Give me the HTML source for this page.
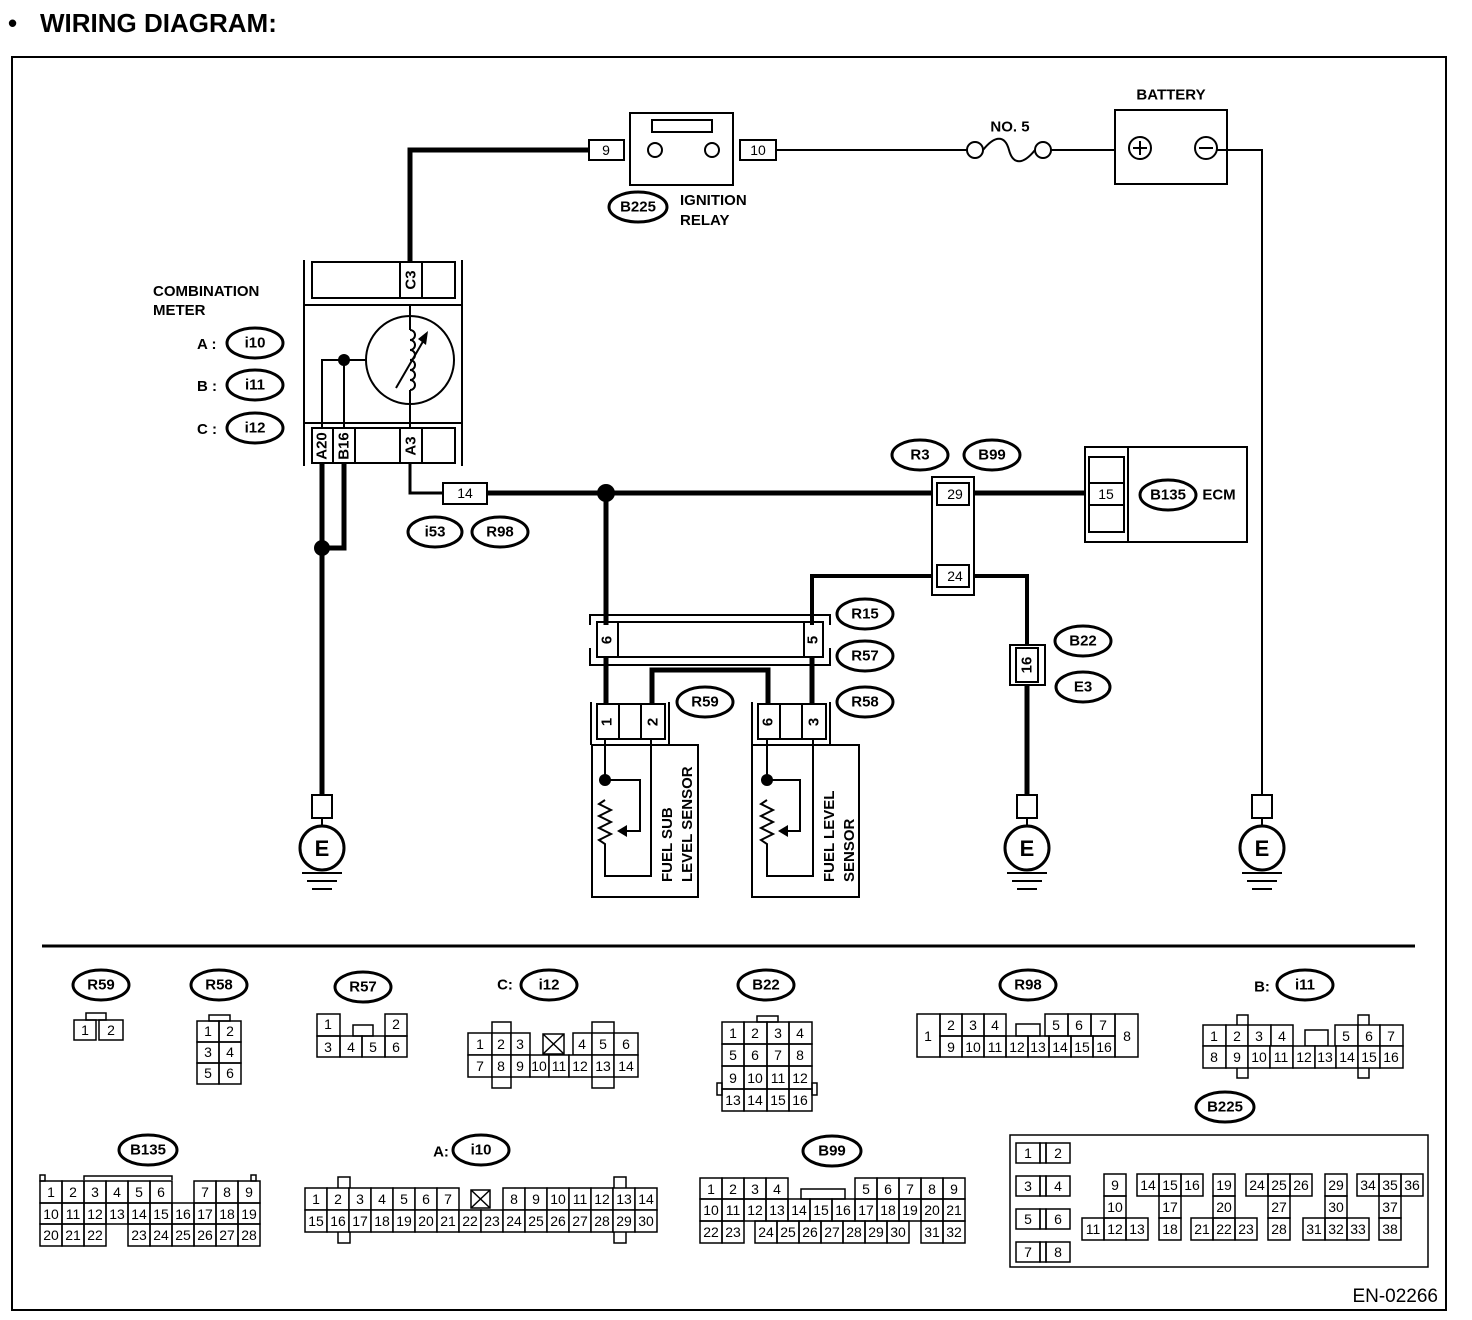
<!DOCTYPE html>
<html><head><meta charset="utf-8"><style>
body{margin:0;background:#fff;}
svg{display:block;font-family:"Liberation Sans",sans-serif;}
.b{font-weight:bold;}
.c{font-size:14px;text-anchor:middle;dominant-baseline:central;}
.l{font-size:15px;font-weight:bold;text-anchor:middle;dominant-baseline:central;}
rect{fill:none;stroke:#000;stroke-width:2;}
rect[fill="#fff"]{fill:#fff;}
.g rect{stroke-width:1.5;}
line,path,polyline{stroke:#000;fill:none;}
</style></head><body>
<svg width="1472" height="1320" viewBox="0 0 1472 1320">
<text x="8" y="32" font-size="26" font-weight="bold">•</text>
<text x="40" y="32" font-size="26" font-weight="bold">WIRING DIAGRAM:</text>
<rect x="12" y="57" width="1434" height="1253" stroke-width="2"/>

<!-- top wires -->
<polyline points="410,262 410,150 589,150" stroke-width="5"/>
<rect x="589" y="140" width="35" height="20"/><text class="c" x="606" y="150">9</text>
<rect x="630" y="113" width="103" height="72"/>
<rect x="652" y="120" width="60" height="12"/>
<circle cx="655" cy="150" r="7" fill="none" stroke="#000" stroke-width="2"/>
<circle cx="712" cy="150" r="7" fill="none" stroke="#000" stroke-width="2"/>
<rect x="740" y="140" width="36" height="20"/><text class="c" x="758" y="150">10</text>
<line x1="776" y1="150" x2="967" y2="150" stroke-width="2"/>
<circle cx="975" cy="150" r="8" fill="none" stroke="#000" stroke-width="2"/>
<circle cx="1043" cy="150" r="8" fill="none" stroke="#000" stroke-width="2"/>
<path d="M983,150 C995,135 1005,135 1009,150 C1013,165 1023,165 1035,150" stroke-width="2"/>
<text class="l" x="1010" y="127">NO. 5</text>
<line x1="1051" y1="150" x2="1115" y2="150" stroke-width="2"/>
<rect x="1115" y="110" width="112" height="74"/>
<text class="l" x="1171" y="95">BATTERY</text>
<circle cx="1140" cy="148" r="11" fill="none" stroke="#000" stroke-width="2"/>
<line x1="1133" y1="148" x2="1147" y2="148" stroke-width="2"/><line x1="1140" y1="141" x2="1140" y2="155" stroke-width="2"/>
<circle cx="1206" cy="148" r="11" fill="none" stroke="#000" stroke-width="2"/>
<line x1="1199" y1="148" x2="1213" y2="148" stroke-width="2"/>
<polyline points="1217,150 1262,150 1262,795" stroke-width="2"/>
<ellipse cx="638" cy="207" rx="29" ry="15" fill="none" stroke="#000" stroke-width="3"/><text class="l" x="638" y="207">B225</text>
<text x="680" y="205" font-size="15" font-weight="bold">IGNITION</text>
<text x="680" y="225" font-size="15" font-weight="bold">RELAY</text>

<!-- combination meter -->
<text x="153" y="296" font-size="15" font-weight="bold">COMBINATION</text>
<text x="153" y="315" font-size="15" font-weight="bold">METER</text>
<text x="197" y="349" font-size="15" font-weight="bold">A :</text>
<ellipse cx="255" cy="343" rx="28" ry="15" fill="none" stroke="#000" stroke-width="3"/><text class="l" x="255" y="343">i10</text>
<text x="197" y="391" font-size="15" font-weight="bold">B :</text>
<ellipse cx="255" cy="385" rx="28" ry="15" fill="none" stroke="#000" stroke-width="3"/><text class="l" x="255" y="385">i11</text>
<text x="197" y="434" font-size="15" font-weight="bold">C :</text>
<ellipse cx="255" cy="428" rx="28" ry="15" fill="none" stroke="#000" stroke-width="3"/><text class="l" x="255" y="428">i12</text>
<line x1="304" y1="260" x2="304" y2="466" stroke-width="2"/>
<line x1="462" y1="260" x2="462" y2="466" stroke-width="2"/>
<line x1="304" y1="305" x2="462" y2="305" stroke-width="2"/>
<line x1="304" y1="423" x2="462" y2="423" stroke-width="2"/>
<rect x="312" y="262" width="143" height="36"/>
<line x1="400" y1="262" x2="400" y2="298" stroke-width="2"/><line x1="422" y1="262" x2="422" y2="298" stroke-width="2"/>
<text class="l" transform="translate(411,280) rotate(-90)">C3</text>
<rect x="312" y="428" width="143" height="35"/>
<line x1="333" y1="428" x2="333" y2="463" stroke-width="2"/><line x1="355" y1="428" x2="355" y2="463" stroke-width="2"/>
<line x1="400" y1="428" x2="400" y2="463" stroke-width="2"/><line x1="422" y1="428" x2="422" y2="463" stroke-width="2"/>
<text class="l" transform="translate(322,446) rotate(-90)">A20</text>
<text class="l" transform="translate(344,446) rotate(-90)">B16</text>
<text class="l" transform="translate(411,446) rotate(-90)">A3</text>
<circle cx="410" cy="360" r="44" fill="none" stroke="#000" stroke-width="2"/>
<polyline points="410,305 410,330" stroke-width="2"/><polyline points="410,390 410,428" stroke-width="2"/>
<path d="M410,330 a5,5 0 0 1 0,10 a5,5 0 0 1 0,10 a5,5 0 0 1 0,10 a5,5 0 0 1 0,10 a5,5 0 0 1 0,10 a5,5 0 0 1 0,10" stroke-width="2"/>
<line x1="396" y1="388" x2="425" y2="338" stroke-width="2"/>
<polygon points="428,331 418,339 426,345" fill="#000"/>
<polyline points="322,428 322,360 366,360" stroke-width="2"/>
<line x1="344" y1="360" x2="344" y2="428" stroke-width="2"/>
<circle cx="344" cy="360" r="6" fill="#000"/>
<!-- left ground wires -->
<line x1="322" y1="463" x2="322" y2="795" stroke-width="5"/>
<polyline points="344,463 344,548 322,548" stroke-width="5"/>
<circle cx="322" cy="548" r="8" fill="#000"/>

<!-- A3 line -->
<polyline points="410,463 410,493 443,493" stroke-width="3"/>
<rect x="443" y="483" width="44" height="21"/><text class="c" x="465" y="493">14</text>
<ellipse cx="435" cy="532" rx="27" ry="15" fill="none" stroke="#000" stroke-width="3"/><text class="l" x="435" y="532">i53</text>
<ellipse cx="500" cy="532" rx="28" ry="15" fill="none" stroke="#000" stroke-width="3"/><text class="l" x="500" y="532">R98</text>
<line x1="487" y1="493" x2="932" y2="493" stroke-width="5"/>
<circle cx="606" cy="493" r="9" fill="#000"/>
<line x1="606" y1="493" x2="606" y2="625" stroke-width="5"/>

<!-- R3/B99 -->
<ellipse cx="920" cy="455" rx="28" ry="15" fill="none" stroke="#000" stroke-width="3"/><text class="l" x="920" y="455">R3</text>
<ellipse cx="992" cy="455" rx="28" ry="15" fill="none" stroke="#000" stroke-width="3"/><text class="l" x="992" y="455">B99</text>
<rect x="932" y="477" width="42" height="118"/>
<rect x="937" y="483" width="32" height="22"/><text class="c" x="955" y="494">29</text>
<rect x="937" y="565" width="32" height="22"/><text class="c" x="955" y="576">24</text>
<line x1="974" y1="493" x2="1085" y2="493" stroke-width="5"/>
<rect x="1085" y="447" width="162" height="95"/>
<line x1="1128" y1="447" x2="1128" y2="542" stroke-width="2"/>
<rect x="1089" y="457" width="35" height="75"/>
<rect x="1089" y="483" width="35" height="22"/><text class="c" x="1106" y="494">15</text>
<ellipse cx="1168" cy="495" rx="28" ry="15" fill="none" stroke="#000" stroke-width="3"/><text class="l" x="1168" y="495">B135</text>
<text class="l" x="1219" y="495">ECM</text>
<polyline points="932,576 812,576 812,625" stroke-width="4"/>
<polyline points="974,576 1027,576 1027,645" stroke-width="4"/>
<rect x="1010" y="645" width="35" height="40"/>
<rect x="1016" y="648" width="22" height="34"/>
<text class="l" transform="translate(1027,665) rotate(-90)">16</text>
<line x1="1027" y1="685" x2="1027" y2="795" stroke-width="5"/>
<ellipse cx="1083" cy="641" rx="28" ry="15" fill="none" stroke="#000" stroke-width="3"/><text class="l" x="1083" y="641">B22</text>
<ellipse cx="1083" cy="687" rx="27" ry="15" fill="none" stroke="#000" stroke-width="3"/><text class="l" x="1083" y="687">E3</text>

<!-- R15/R57 -->
<polyline points="590,625 590,615 830,615 830,625" stroke-width="2"/>
<polyline points="590,648 590,665 830,665 830,648" stroke-width="2"/>
<rect x="597" y="622" width="226" height="35"/>
<line x1="618" y1="622" x2="618" y2="657" stroke-width="2"/><line x1="804" y1="622" x2="804" y2="657" stroke-width="2"/>
<text class="l" transform="translate(607,640) rotate(-90)">6</text>
<text class="l" transform="translate(813,640) rotate(-90)">5</text>
<ellipse cx="865" cy="614" rx="28" ry="15" fill="none" stroke="#000" stroke-width="3"/><text class="l" x="865" y="614">R15</text>
<ellipse cx="865" cy="656" rx="28" ry="15" fill="none" stroke="#000" stroke-width="3"/><text class="l" x="865" y="656">R57</text>
<ellipse cx="865" cy="702" rx="28" ry="15" fill="none" stroke="#000" stroke-width="3"/><text class="l" x="865" y="702">R58</text>
<ellipse cx="705" cy="702" rx="28" ry="15" fill="none" stroke="#000" stroke-width="3"/><text class="l" x="705" y="702">R59</text>
<line x1="606" y1="657" x2="606" y2="704" stroke-width="5"/>
<line x1="812" y1="657" x2="812" y2="704" stroke-width="5"/>
<polyline points="652,704 652,670 768,670 768,704" stroke-width="5"/>
<!-- R59 sensor connectors -->
<polyline points="591,745 591,702" stroke-width="2"/><polyline points="669,702 669,745" stroke-width="2"/>
<rect x="597" y="704" width="68" height="35"/>
<line x1="619" y1="704" x2="619" y2="739" stroke-width="2"/><line x1="641" y1="704" x2="641" y2="739" stroke-width="2"/>
<text class="l" transform="translate(607,722) rotate(-90)">1</text>
<text class="l" transform="translate(653,722) rotate(-90)">2</text>
<polyline points="752,745 752,702" stroke-width="2"/><polyline points="830,702 830,745" stroke-width="2"/>
<rect x="758" y="704" width="68" height="35"/>
<line x1="780" y1="704" x2="780" y2="739" stroke-width="2"/><line x1="802" y1="704" x2="802" y2="739" stroke-width="2"/>
<text class="l" transform="translate(768,722) rotate(-90)">6</text>
<text class="l" transform="translate(814,722) rotate(-90)">3</text>
<!-- sensors -->
<rect x="592" y="745" width="106" height="152"/>
<polyline points="605,739 605,780" stroke-width="2"/>
<circle cx="605" cy="780" r="6" fill="#000"/>
<polyline points="605,780 640,780 640,831 622,831" stroke-width="2"/>
<polygon points="617,831 627,825 627,837" fill="#000"/>
<path d="M605,800 l-6,4 l12,6 l-12,6 l12,6 l-12,6 l12,6 l-12,6 l6,4 L605,876 L651,876 L651,739" stroke-width="2"/>
<text class="b" font-size="15" transform="translate(672,882) rotate(-90)">FUEL SUB</text>
<text class="b" font-size="15" transform="translate(692,882) rotate(-90)">LEVEL SENSOR</text>
<rect x="752" y="745" width="107" height="152"/>
<polyline points="767,739 767,780" stroke-width="2"/>
<circle cx="767" cy="780" r="6" fill="#000"/>
<polyline points="767,780 800,780 800,831 783,831" stroke-width="2"/>
<polygon points="778,831 788,825 788,837" fill="#000"/>
<path d="M767,800 l-6,4 l12,6 l-12,6 l12,6 l-12,6 l12,6 l-12,6 l6,4 L767,876 L813,876 L813,739" stroke-width="2"/>
<text class="b" font-size="15" transform="translate(834,882) rotate(-90)">FUEL LEVEL</text>
<text class="b" font-size="15" transform="translate(854,882) rotate(-90)">SENSOR</text>

<!-- grounds -->
<g>
<rect x="312" y="795" width="20" height="23"/><line x1="322" y1="818" x2="322" y2="826" stroke-width="2"/>
<circle cx="322" cy="848" r="22" fill="none" stroke="#000" stroke-width="3"/><text class="b" font-size="22" text-anchor="middle" x="322" y="856">E</text>
<line x1="302" y1="873" x2="342" y2="873" stroke-width="2"/><line x1="307" y1="881" x2="337" y2="881" stroke-width="2"/><line x1="312" y1="889" x2="332" y2="889" stroke-width="2"/>
<rect x="1017" y="795" width="20" height="23"/><line x1="1027" y1="818" x2="1027" y2="826" stroke-width="2"/>
<circle cx="1027" cy="848" r="22" fill="none" stroke="#000" stroke-width="3"/><text class="b" font-size="22" text-anchor="middle" x="1027" y="856">E</text>
<line x1="1007" y1="873" x2="1047" y2="873" stroke-width="2"/><line x1="1012" y1="881" x2="1042" y2="881" stroke-width="2"/><line x1="1017" y1="889" x2="1037" y2="889" stroke-width="2"/>
<rect x="1252" y="795" width="20" height="23"/><line x1="1262" y1="818" x2="1262" y2="826" stroke-width="2"/>
<circle cx="1262" cy="848" r="22" fill="none" stroke="#000" stroke-width="3"/><text class="b" font-size="22" text-anchor="middle" x="1262" y="856">E</text>
<line x1="1242" y1="873" x2="1282" y2="873" stroke-width="2"/><line x1="1247" y1="881" x2="1277" y2="881" stroke-width="2"/><line x1="1252" y1="889" x2="1272" y2="889" stroke-width="2"/>
</g>

<line x1="42" y1="946" x2="1415" y2="946" stroke-width="3"/>

<!-- connector legend -->
<g class="g">
<ellipse cx="101" cy="985" rx="28" ry="15" fill="none" stroke="#000" stroke-width="3"/><text class="l" x="101" y="985">R59</text>
<rect x="86" y="1013" width="20" height="7"/>
<rect x="74" y="1020" width="22" height="20"/><rect x="99" y="1020" width="24" height="20"/>
<text class="c" x="85" y="1030">1</text><text class="c" x="111" y="1030">2</text>

<ellipse cx="219" cy="985" rx="28" ry="15" fill="none" stroke="#000" stroke-width="3"/><text class="l" x="219" y="985">R58</text>
<rect x="209" y="1015" width="21" height="6"/>
<rect x="197" y="1021" width="22" height="21"/><rect x="219" y="1021" width="22" height="21"/>
<rect x="197" y="1042" width="22" height="21"/><rect x="219" y="1042" width="22" height="21"/>
<rect x="197" y="1063" width="22" height="21"/><rect x="219" y="1063" width="22" height="21"/>
<text class="c" x="208" y="1031">1</text><text class="c" x="230" y="1031">2</text>
<text class="c" x="208" y="1052">3</text><text class="c" x="230" y="1052">4</text>
<text class="c" x="208" y="1073">5</text><text class="c" x="230" y="1073">6</text>

<ellipse cx="363" cy="987" rx="28" ry="15" fill="none" stroke="#000" stroke-width="3"/><text class="l" x="363" y="987">R57</text>
<rect x="317" y="1014" width="23" height="22"/><rect x="385" y="1014" width="22" height="22"/>
<rect x="353" y="1025" width="20" height="11"/>
<rect x="317" y="1036" width="23" height="21"/><rect x="340" y="1036" width="22" height="21"/><rect x="362" y="1036" width="23" height="21"/><rect x="385" y="1036" width="22" height="21"/>
<text class="c" x="328" y="1024">1</text><text class="c" x="396" y="1024">2</text>
<text class="c" x="328" y="1047">3</text><text class="c" x="351" y="1047">4</text><text class="c" x="373" y="1047">5</text><text class="c" x="396" y="1047">6</text>

<text class="l" x="505" y="985">C:</text>
<ellipse cx="549" cy="985" rx="28" ry="15" fill="none" stroke="#000" stroke-width="3"/><text class="l" x="549" y="985">i12</text>
<rect x="492" y="1022" width="19" height="66"/><rect x="592" y="1022" width="22" height="66"/>
<rect x="468" y="1033" width="24" height="22" fill="#fff"/><rect x="492" y="1033" width="19" height="22" fill="#fff"/><rect x="511" y="1033" width="19" height="22" fill="#fff"/>
<rect x="543" y="1034" width="21" height="20"/><line x1="543" y1="1034" x2="564" y2="1054" stroke-width="1.5"/><line x1="564" y1="1034" x2="543" y2="1054" stroke-width="1.5"/>
<rect x="573" y="1033" width="19" height="22" fill="#fff"/><rect x="592" y="1033" width="22" height="22" fill="#fff"/><rect x="614" y="1033" width="24" height="22" fill="#fff"/>
<rect x="468" y="1055" width="24" height="22" fill="#fff"/><rect x="492" y="1055" width="19" height="22" fill="#fff"/><rect x="511" y="1055" width="19" height="22" fill="#fff"/><rect x="530" y="1055" width="19" height="22" fill="#fff"/><rect x="549" y="1055" width="20" height="22" fill="#fff"/><rect x="569" y="1055" width="23" height="22" fill="#fff"/><rect x="592" y="1055" width="22" height="22" fill="#fff"/><rect x="614" y="1055" width="24" height="22" fill="#fff"/>
<text class="c" x="480" y="1044">1</text><text class="c" x="501" y="1044">2</text><text class="c" x="520" y="1044">3</text><text class="c" x="582" y="1044">4</text><text class="c" x="603" y="1044">5</text><text class="c" x="626" y="1044">6</text>
<text class="c" x="480" y="1066">7</text><text class="c" x="501" y="1066">8</text><text class="c" x="520" y="1066">9</text><text class="c" x="539" y="1066">10</text><text class="c" x="559" y="1066">11</text><text class="c" x="580" y="1066">12</text><text class="c" x="603" y="1066">13</text><text class="c" x="626" y="1066">14</text>

<ellipse cx="766" cy="985" rx="28" ry="15" fill="none" stroke="#000" stroke-width="3"/><text class="l" x="766" y="985">B22</text>
<rect x="757" y="1016" width="21" height="6"/>
<rect x="717" y="1083" width="5" height="12"/><rect x="812" y="1083" width="5" height="12"/>
<rect x="722" y="1022" width="22" height="22"/><rect x="744" y="1022" width="23" height="22"/><rect x="767" y="1022" width="22" height="22"/><rect x="789" y="1022" width="23" height="22"/>
<rect x="722" y="1044" width="22" height="22"/><rect x="744" y="1044" width="23" height="22"/><rect x="767" y="1044" width="22" height="22"/><rect x="789" y="1044" width="23" height="22"/>
<rect x="722" y="1066" width="22" height="23"/><rect x="744" y="1066" width="23" height="23"/><rect x="767" y="1066" width="22" height="23"/><rect x="789" y="1066" width="23" height="23"/>
<rect x="722" y="1089" width="22" height="22"/><rect x="744" y="1089" width="23" height="22"/><rect x="767" y="1089" width="22" height="22"/><rect x="789" y="1089" width="23" height="22"/>
<text class="c" x="733" y="1033">1</text><text class="c" x="755" y="1033">2</text><text class="c" x="778" y="1033">3</text><text class="c" x="800" y="1033">4</text>
<text class="c" x="733" y="1055">5</text><text class="c" x="755" y="1055">6</text><text class="c" x="778" y="1055">7</text><text class="c" x="800" y="1055">8</text>
<text class="c" x="733" y="1078">9</text><text class="c" x="755" y="1078">10</text><text class="c" x="778" y="1078">11</text><text class="c" x="800" y="1078">12</text>
<text class="c" x="733" y="1100">13</text><text class="c" x="755" y="1100">14</text><text class="c" x="778" y="1100">15</text><text class="c" x="800" y="1100">16</text>

<ellipse cx="1028" cy="985" rx="28" ry="15" fill="none" stroke="#000" stroke-width="3"/><text class="l" x="1028" y="985">R98</text>
<rect x="917" y="1014" width="23" height="43"/><rect x="1115" y="1014" width="23" height="43"/>
<rect x="1016" y="1024" width="24" height="12"/>
<rect x="940" y="1014" width="22" height="22"/><rect x="962" y="1014" width="22" height="22"/><rect x="984" y="1014" width="22" height="22"/>
<rect x="1045" y="1014" width="23" height="22"/><rect x="1068" y="1014" width="23" height="22"/><rect x="1091" y="1014" width="24" height="22"/>
<rect x="940" y="1036" width="22" height="21"/><rect x="962" y="1036" width="22" height="21"/><rect x="984" y="1036" width="22" height="21"/><rect x="1006" y="1036" width="22" height="21"/><rect x="1028" y="1036" width="21" height="21"/><rect x="1049" y="1036" width="22" height="21"/><rect x="1071" y="1036" width="22" height="21"/><rect x="1093" y="1036" width="22" height="21"/>
<text class="c" x="928" y="1036">1</text><text class="c" x="1127" y="1036">8</text>
<text class="c" x="951" y="1025">2</text><text class="c" x="973" y="1025">3</text><text class="c" x="995" y="1025">4</text><text class="c" x="1056" y="1025">5</text><text class="c" x="1079" y="1025">6</text><text class="c" x="1103" y="1025">7</text>
<text class="c" x="951" y="1047">9</text><text class="c" x="973" y="1047">10</text><text class="c" x="995" y="1047">11</text><text class="c" x="1017" y="1047">12</text><text class="c" x="1038" y="1047">13</text><text class="c" x="1060" y="1047">14</text><text class="c" x="1082" y="1047">15</text><text class="c" x="1104" y="1047">16</text>

<text class="l" x="1262" y="987">B:</text>
<ellipse cx="1305" cy="985" rx="28" ry="15" fill="none" stroke="#000" stroke-width="3"/><text class="l" x="1305" y="985">i11</text>
<rect x="1237" y="1015" width="11" height="63"/><rect x="1358" y="1015" width="11" height="63"/>
<rect x="1305" y="1030" width="23" height="16"/>
<rect x="1203" y="1025" width="23" height="21" fill="#fff"/><rect x="1226" y="1025" width="22" height="21" fill="#fff"/><rect x="1248" y="1025" width="23" height="21" fill="#fff"/><rect x="1271" y="1025" width="22" height="21" fill="#fff"/>
<rect x="1335" y="1025" width="23" height="21" fill="#fff"/><rect x="1358" y="1025" width="22" height="21" fill="#fff"/><rect x="1380" y="1025" width="23" height="21" fill="#fff"/>
<rect x="1203" y="1046" width="23" height="22" fill="#fff"/><rect x="1226" y="1046" width="22" height="22" fill="#fff"/><rect x="1248" y="1046" width="22" height="22" fill="#fff"/><rect x="1270" y="1046" width="23" height="22" fill="#fff"/><rect x="1293" y="1046" width="22" height="22" fill="#fff"/><rect x="1315" y="1046" width="21" height="22" fill="#fff"/><rect x="1336" y="1046" width="22" height="22" fill="#fff"/><rect x="1358" y="1046" width="22" height="22" fill="#fff"/><rect x="1380" y="1046" width="23" height="22" fill="#fff"/>
<text class="c" x="1214" y="1036">1</text><text class="c" x="1237" y="1036">2</text><text class="c" x="1259" y="1036">3</text><text class="c" x="1282" y="1036">4</text><text class="c" x="1346" y="1036">5</text><text class="c" x="1369" y="1036">6</text><text class="c" x="1391" y="1036">7</text>
<text class="c" x="1214" y="1057">8</text><text class="c" x="1237" y="1057">9</text><text class="c" x="1259" y="1057">10</text><text class="c" x="1281" y="1057">11</text><text class="c" x="1304" y="1057">12</text><text class="c" x="1325" y="1057">13</text><text class="c" x="1347" y="1057">14</text><text class="c" x="1369" y="1057">15</text><text class="c" x="1391" y="1057">16</text>

<!-- B225 -->
<ellipse cx="1225" cy="1107" rx="29" ry="15" fill="none" stroke="#000" stroke-width="3"/><text class="l" x="1225" y="1107">B225</text>
<rect x="1010" y="1135" width="418" height="132" stroke-width="2"/>
<rect x="1016" y="1143" width="24" height="20"/><rect x="1040" y="1143" width="6" height="20"/><rect x="1046" y="1143" width="24" height="20"/>
<rect x="1016" y="1176" width="24" height="20"/><rect x="1040" y="1176" width="6" height="20"/><rect x="1046" y="1176" width="24" height="20"/>
<rect x="1016" y="1209" width="24" height="20"/><rect x="1040" y="1209" width="6" height="20"/><rect x="1046" y="1209" width="24" height="20"/>
<rect x="1016" y="1242" width="24" height="20"/><rect x="1040" y="1242" width="6" height="20"/><rect x="1046" y="1242" width="24" height="20"/>
<text class="c" x="1028" y="1153">1</text><text class="c" x="1058" y="1153">2</text>
<text class="c" x="1028" y="1186">3</text><text class="c" x="1058" y="1186">4</text>
<text class="c" x="1028" y="1219">5</text><text class="c" x="1058" y="1219">6</text>
<text class="c" x="1028" y="1252">7</text><text class="c" x="1058" y="1252">8</text>
<rect x="1104" y="1174" width="22" height="22"/><rect x="1104" y="1196" width="22" height="22"/>
<rect x="1082" y="1218" width="22" height="22"/><rect x="1104" y="1218" width="22" height="22"/><rect x="1126" y="1218" width="22" height="22"/>
<text class="c" x="1115" y="1185">9</text><text class="c" x="1115" y="1207">10</text><text class="c" x="1093" y="1229">11</text><text class="c" x="1115" y="1229">12</text><text class="c" x="1137" y="1229">13</text>
<rect x="1137" y="1174" width="22" height="22"/><rect x="1159" y="1174" width="22" height="22"/><rect x="1181" y="1174" width="22" height="22"/>
<rect x="1159" y="1196" width="22" height="22"/><rect x="1159" y="1218" width="22" height="22"/>
<text class="c" x="1148" y="1185">14</text><text class="c" x="1170" y="1185">15</text><text class="c" x="1192" y="1185">16</text><text class="c" x="1170" y="1207">17</text><text class="c" x="1170" y="1229">18</text>
<rect x="1213" y="1174" width="22" height="22"/><rect x="1213" y="1196" width="22" height="22"/>
<rect x="1191" y="1218" width="22" height="22"/><rect x="1213" y="1218" width="22" height="22"/><rect x="1235" y="1218" width="22" height="22"/>
<text class="c" x="1224" y="1185">19</text><text class="c" x="1224" y="1207">20</text><text class="c" x="1202" y="1229">21</text><text class="c" x="1224" y="1229">22</text><text class="c" x="1246" y="1229">23</text>
<rect x="1246" y="1174" width="22" height="22"/><rect x="1268" y="1174" width="22" height="22"/><rect x="1290" y="1174" width="22" height="22"/>
<rect x="1268" y="1196" width="22" height="22"/><rect x="1268" y="1218" width="22" height="22"/>
<text class="c" x="1257" y="1185">24</text><text class="c" x="1279" y="1185">25</text><text class="c" x="1301" y="1185">26</text><text class="c" x="1279" y="1207">27</text><text class="c" x="1279" y="1229">28</text>
<rect x="1325" y="1174" width="22" height="22"/><rect x="1325" y="1196" width="22" height="22"/>
<rect x="1303" y="1218" width="22" height="22"/><rect x="1325" y="1218" width="22" height="22"/><rect x="1347" y="1218" width="22" height="22"/>
<text class="c" x="1336" y="1185">29</text><text class="c" x="1336" y="1207">30</text><text class="c" x="1314" y="1229">31</text><text class="c" x="1336" y="1229">32</text><text class="c" x="1358" y="1229">33</text>
<rect x="1357" y="1174" width="22" height="22"/><rect x="1379" y="1174" width="22" height="22"/><rect x="1401" y="1174" width="22" height="22"/>
<rect x="1379" y="1196" width="22" height="22"/><rect x="1379" y="1218" width="22" height="22"/>
<text class="c" x="1368" y="1185">34</text><text class="c" x="1390" y="1185">35</text><text class="c" x="1412" y="1185">36</text><text class="c" x="1390" y="1207">37</text><text class="c" x="1390" y="1229">38</text>

<!-- B135 -->
<ellipse cx="148" cy="1150" rx="29" ry="15" fill="none" stroke="#000" stroke-width="3"/><text class="l" x="148" y="1150">B135</text>
<polyline points="84,1180 84,1176 172,1176 172,1180" stroke-width="1.5"/>
<rect x="40" y="1175" width="5" height="6"/><rect x="251" y="1175" width="5" height="6"/>
<rect x="40" y="1181" width="22" height="22"/><rect x="62" y="1181" width="22" height="22"/><rect x="84" y="1181" width="22" height="22"/><rect x="106" y="1181" width="22" height="22"/><rect x="128" y="1181" width="22" height="22"/><rect x="150" y="1181" width="22" height="22"/>
<rect x="194" y="1181" width="22" height="22"/><rect x="216" y="1181" width="22" height="22"/><rect x="238" y="1181" width="22" height="22"/>
<text class="c" x="51" y="1192">1</text><text class="c" x="73" y="1192">2</text><text class="c" x="95" y="1192">3</text><text class="c" x="117" y="1192">4</text><text class="c" x="139" y="1192">5</text><text class="c" x="161" y="1192">6</text><text class="c" x="205" y="1192">7</text><text class="c" x="227" y="1192">8</text><text class="c" x="249" y="1192">9</text>
<rect x="40" y="1203" width="22" height="21"/><rect x="62" y="1203" width="22" height="21"/><rect x="84" y="1203" width="22" height="21"/><rect x="106" y="1203" width="22" height="21"/><rect x="128" y="1203" width="22" height="21"/><rect x="150" y="1203" width="22" height="21"/><rect x="172" y="1203" width="22" height="21"/><rect x="194" y="1203" width="22" height="21"/><rect x="216" y="1203" width="22" height="21"/><rect x="238" y="1203" width="22" height="21"/>
<text class="c" x="51" y="1214">10</text><text class="c" x="73" y="1214">11</text><text class="c" x="95" y="1214">12</text><text class="c" x="117" y="1214">13</text><text class="c" x="139" y="1214">14</text><text class="c" x="161" y="1214">15</text><text class="c" x="183" y="1214">16</text><text class="c" x="205" y="1214">17</text><text class="c" x="227" y="1214">18</text><text class="c" x="249" y="1214">19</text>
<rect x="40" y="1224" width="22" height="22"/><rect x="62" y="1224" width="22" height="22"/><rect x="84" y="1224" width="22" height="22"/>
<rect x="128" y="1224" width="22" height="22"/><rect x="150" y="1224" width="22" height="22"/><rect x="172" y="1224" width="22" height="22"/><rect x="194" y="1224" width="22" height="22"/><rect x="216" y="1224" width="22" height="22"/><rect x="238" y="1224" width="22" height="22"/>
<text class="c" x="51" y="1235">20</text><text class="c" x="73" y="1235">21</text><text class="c" x="95" y="1235">22</text><text class="c" x="139" y="1235">23</text><text class="c" x="161" y="1235">24</text><text class="c" x="183" y="1235">25</text><text class="c" x="205" y="1235">26</text><text class="c" x="227" y="1235">27</text><text class="c" x="249" y="1235">28</text>

<!-- i10 -->
<text class="l" x="441" y="1152">A:</text>
<ellipse cx="481" cy="1150" rx="28" ry="15" fill="none" stroke="#000" stroke-width="3"/><text class="l" x="481" y="1150">i10</text>
<rect x="338" y="1177" width="12" height="66"/><rect x="614" y="1177" width="12" height="66"/>
<rect x="305" y="1188" width="22" height="22" fill="#fff"/><rect x="327" y="1188" width="22" height="22" fill="#fff"/><rect x="349" y="1188" width="22" height="22" fill="#fff"/><rect x="371" y="1188" width="22" height="22" fill="#fff"/><rect x="393" y="1188" width="22" height="22" fill="#fff"/><rect x="415" y="1188" width="22" height="22" fill="#fff"/><rect x="437" y="1188" width="22" height="22" fill="#fff"/>
<rect x="471" y="1190" width="19" height="18"/><line x1="471" y1="1190" x2="490" y2="1208" stroke-width="1.5"/><line x1="490" y1="1190" x2="471" y2="1208" stroke-width="1.5"/>
<rect x="503" y="1188" width="22" height="22" fill="#fff"/><rect x="525" y="1188" width="22" height="22" fill="#fff"/><rect x="547" y="1188" width="22" height="22" fill="#fff"/><rect x="569" y="1188" width="22" height="22" fill="#fff"/><rect x="591" y="1188" width="22" height="22" fill="#fff"/><rect x="613" y="1188" width="22" height="22" fill="#fff"/><rect x="635" y="1188" width="22" height="22" fill="#fff"/>
<text class="c" x="316" y="1199">1</text><text class="c" x="338" y="1199">2</text><text class="c" x="360" y="1199">3</text><text class="c" x="382" y="1199">4</text><text class="c" x="404" y="1199">5</text><text class="c" x="426" y="1199">6</text><text class="c" x="448" y="1199">7</text>
<text class="c" x="514" y="1199">8</text><text class="c" x="536" y="1199">9</text><text class="c" x="558" y="1199">10</text><text class="c" x="580" y="1199">11</text><text class="c" x="602" y="1199">12</text><text class="c" x="624" y="1199">13</text><text class="c" x="646" y="1199">14</text>
<rect x="305" y="1210" width="22" height="22" fill="#fff"/><rect x="327" y="1210" width="22" height="22" fill="#fff"/><rect x="349" y="1210" width="22" height="22" fill="#fff"/><rect x="371" y="1210" width="22" height="22" fill="#fff"/><rect x="393" y="1210" width="22" height="22" fill="#fff"/><rect x="415" y="1210" width="22" height="22" fill="#fff"/><rect x="437" y="1210" width="22" height="22" fill="#fff"/><rect x="459" y="1210" width="22" height="22" fill="#fff"/><rect x="481" y="1210" width="22" height="22" fill="#fff"/><rect x="503" y="1210" width="22" height="22" fill="#fff"/><rect x="525" y="1210" width="22" height="22" fill="#fff"/><rect x="547" y="1210" width="22" height="22" fill="#fff"/><rect x="569" y="1210" width="22" height="22" fill="#fff"/><rect x="591" y="1210" width="22" height="22" fill="#fff"/><rect x="613" y="1210" width="22" height="22" fill="#fff"/><rect x="635" y="1210" width="22" height="22" fill="#fff"/>
<text class="c" x="316" y="1221">15</text><text class="c" x="338" y="1221">16</text><text class="c" x="360" y="1221">17</text><text class="c" x="382" y="1221">18</text><text class="c" x="404" y="1221">19</text><text class="c" x="426" y="1221">20</text><text class="c" x="448" y="1221">21</text><text class="c" x="470" y="1221">22</text><text class="c" x="492" y="1221">23</text><text class="c" x="514" y="1221">24</text><text class="c" x="536" y="1221">25</text><text class="c" x="558" y="1221">26</text><text class="c" x="580" y="1221">27</text><text class="c" x="602" y="1221">28</text><text class="c" x="624" y="1221">29</text><text class="c" x="646" y="1221">30</text>

<!-- B99 -->
<ellipse cx="832" cy="1151" rx="29" ry="15" fill="none" stroke="#000" stroke-width="3"/><text class="l" x="832" y="1151">B99</text>
<rect x="801" y="1189" width="44" height="10"/>
<rect x="700" y="1178" width="22" height="21"/><rect x="722" y="1178" width="22" height="21"/><rect x="744" y="1178" width="22" height="21"/><rect x="766" y="1178" width="22" height="21"/>
<rect x="855" y="1178" width="22" height="21"/><rect x="877" y="1178" width="22" height="21"/><rect x="899" y="1178" width="22" height="21"/><rect x="921" y="1178" width="22" height="21"/><rect x="943" y="1178" width="22" height="21"/>
<text class="c" x="711" y="1189">1</text><text class="c" x="733" y="1189">2</text><text class="c" x="755" y="1189">3</text><text class="c" x="777" y="1189">4</text><text class="c" x="866" y="1189">5</text><text class="c" x="888" y="1189">6</text><text class="c" x="910" y="1189">7</text><text class="c" x="932" y="1189">8</text><text class="c" x="954" y="1189">9</text>
<rect x="700" y="1199" width="22" height="22"/><rect x="722" y="1199" width="22" height="22"/><rect x="744" y="1199" width="22" height="22"/><rect x="766" y="1199" width="22" height="22"/><rect x="788" y="1199" width="22" height="22"/><rect x="810" y="1199" width="22" height="22"/><rect x="832" y="1199" width="23" height="22"/><rect x="855" y="1199" width="22" height="22"/><rect x="877" y="1199" width="22" height="22"/><rect x="899" y="1199" width="22" height="22"/><rect x="921" y="1199" width="22" height="22"/><rect x="943" y="1199" width="22" height="22"/>
<text class="c" x="711" y="1210">10</text><text class="c" x="733" y="1210">11</text><text class="c" x="755" y="1210">12</text><text class="c" x="777" y="1210">13</text><text class="c" x="799" y="1210">14</text><text class="c" x="821" y="1210">15</text><text class="c" x="843" y="1210">16</text><text class="c" x="866" y="1210">17</text><text class="c" x="888" y="1210">18</text><text class="c" x="910" y="1210">19</text><text class="c" x="932" y="1210">20</text><text class="c" x="954" y="1210">21</text>
<rect x="700" y="1221" width="22" height="22"/><rect x="722" y="1221" width="22" height="22"/>
<rect x="755" y="1221" width="22" height="22"/><rect x="777" y="1221" width="22" height="22"/><rect x="799" y="1221" width="22" height="22"/><rect x="821" y="1221" width="22" height="22"/><rect x="843" y="1221" width="22" height="22"/><rect x="865" y="1221" width="22" height="22"/><rect x="887" y="1221" width="22" height="22"/>
<rect x="921" y="1221" width="22" height="22"/><rect x="943" y="1221" width="22" height="22"/>
<text class="c" x="711" y="1232">22</text><text class="c" x="733" y="1232">23</text><text class="c" x="766" y="1232">24</text><text class="c" x="788" y="1232">25</text><text class="c" x="810" y="1232">26</text><text class="c" x="832" y="1232">27</text><text class="c" x="854" y="1232">28</text><text class="c" x="876" y="1232">29</text><text class="c" x="898" y="1232">30</text><text class="c" x="932" y="1232">31</text><text class="c" x="954" y="1232">32</text>
</g>

<text x="1438" y="1302" font-size="19" text-anchor="end">EN-02266</text>
</svg>
</body></html>
